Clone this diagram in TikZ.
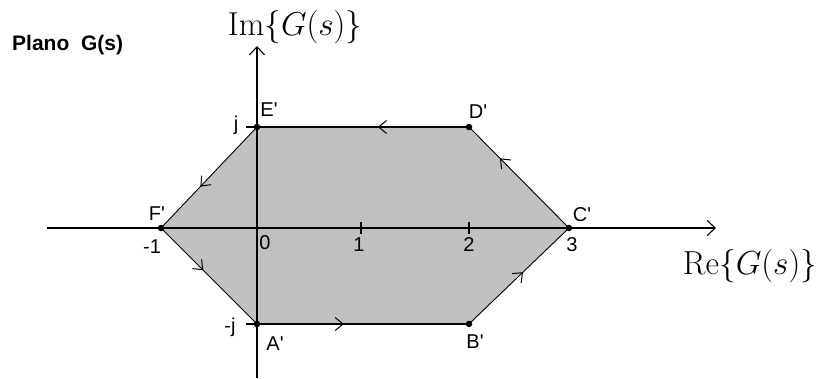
\documentclass[tikz,border=0pt]{standalone}
\usepackage{fontspec}
\newfontfamily\lab{Liberation Sans}
\usetikzlibrary{arrows.meta,decorations.markings}
\definecolor{polygray}{HTML}{C0C0C0}
\tikzset{
  axis/.style={line width=1.3pt,black},
  axtip/.style={-{Straight Barb[length=8pt,width=15pt,line width=1.1pt]}},
  hedge/.style={line width=1.4pt,black},
  dedge/.style={line width=0.9pt,black},
  midarr/.style={postaction={decorate,decoration={markings,
     mark=at position #1 with {\arrow{Straight Barb[length=8pt,width=13pt,line width=1pt]}}}}},
  dot/.style={circle,fill=black,inner sep=0pt,minimum size=6.5pt},
  lbl/.style={font=\lab\fontsize{20}{20}\selectfont,inner sep=0pt},
  tick/.style={line width=1.2pt},
  mathlbl/.style={font=\fontsize{24.88}{25}\selectfont,inner sep=0pt},
}
\begin{document}
\begin{tikzpicture}[x=1pt,y=-1pt]
\useasboundingbox (0,0) rectangle (820,378);
% vertices
\coordinate (Ap) at (257,324);
\coordinate (Bp) at (469,324);
\coordinate (Cp) at (569,228);
\coordinate (Dp) at (469,127);
\coordinate (Ep) at (257,127);
\coordinate (Fp) at (161,228);
% fill
\fill[polygray] (Ap)--(Bp)--(Cp)--(Dp)--(Ep)--(Fp)--cycle;
% axes
\coordinate (xl) at (47,228);
\coordinate (xr) at (716,228);
\coordinate (yb) at (257,378);
\coordinate (yt) at (257,46);
\draw[axis,axtip] (xl)--(xr);
\draw[axis,axtip] (yb)--(yt);
% ticks
\coordinate (t1a) at (361,222); \coordinate (t1b) at (361,234);
\coordinate (t2a) at (469,222); \coordinate (t2b) at (469,234);
\coordinate (tja) at (246,127); \coordinate (tjb) at (257,127);
\coordinate (tma) at (246,324); \coordinate (tmb) at (257,324);
\draw[tick] (t1a)--(t1b);
\draw[tick] (t2a)--(t2b);
\draw[tick] (tja)--(tjb);
\draw[tick] (tma)--(tmb);
% contour edges
\draw[hedge,midarr=0.41] (Ap)--(Bp);
\draw[dedge,midarr=0.54] (Bp)--(Cp);
\draw[dedge,midarr=0.69] (Cp)--(Dp);
\draw[hedge,midarr=0.43] (Dp)--(Ep);
\draw[dedge,midarr=0.59] (Ep)--(Fp);
\draw[dedge,midarr=0.44] (Fp)--(Ap);
% dots
\node[dot] (dA) at (Ap) {};
\node[dot] (dB) at (Bp) {};
\node[dot] (dC) at (Cp) {};
\node[dot] (dD) at (Dp) {};
\node[dot] (dE) at (Ep) {};
\node[dot] (dF) at (Fp) {};
% labels
\node[lbl] (lE) at (269,110) {E'};
\node[lbl] (lD) at (478,112) {D'};
\node[lbl] (lC) at (582,215) {C'};
\node[lbl] (lF) at (157,214) {F'};
\node[lbl] (lA) at (275,344) {A'};
\node[lbl] (lB) at (475,342) {B'};
\node[lbl] (lj) at (236,125) {j};
\node[lbl] (lmj) at (230,327) {-j};
\node[lbl] (l0) at (265,243) {0};
\node[lbl] (l1) at (359,245) {1};
\node[lbl] (l2) at (469,245) {2};
\node[lbl] (l3) at (572,245) {3};
\node[lbl] (lm1) at (152,247) {-1};
\node[lbl,anchor=west,font=\lab\bfseries\fontsize{21}{21}\selectfont] (plano) at (12,45) {Plano\ \ G(s)};
\node[mathlbl] (im) at (295,27) {\resizebox{134pt}{!}{$\mathrm{Im}\Bigl\{G(s)\Bigr\}$}};
\node[mathlbl] (re) at (750,266) {\resizebox{134pt}{!}{$\mathrm{Re}\Bigl\{G(s)\Bigr\}$}};
\end{tikzpicture}
\end{document}
